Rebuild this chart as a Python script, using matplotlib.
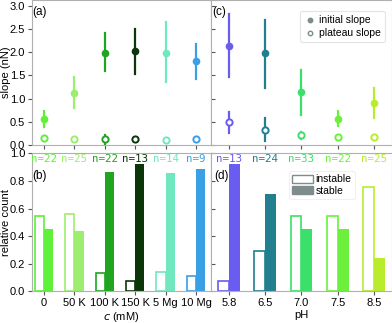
import matplotlib.pyplot as plt
import numpy as np
from matplotlib.lines import Line2D
from matplotlib.patches import Patch

plt.rcParams["font.family"] = ["Liberation Sans", "DejaVu Sans"]
plt.rcParams["font.size"] = 8

# salt conditions
salt_labels = ["0", "50 K", "100 K", "150 K", "5 Mg", "10 Mg"]
salt_colors = ["#5ef03a", "#9ded6e", "#1fa51f", "#0a360a", "#6fe8c0", "#3aa0e6"]
salt_n = ["n=22", "n=25", "n=22", "n=13", "n=14", "n=9"]
salt_init = [0.55, 1.12, 1.99, 2.02, 1.99, 1.81]
salt_init_lo = [0.38, 0.79, 1.60, 1.53, 1.35, 1.42]
salt_init_hi = [0.73, 1.46, 2.40, 2.50, 2.64, 2.18]
salt_plat = [0.15, 0.14, 0.13, 0.13, 0.10, 0.12]
salt_plat_lo = [0.15, 0.14, 0.03, 0.10, 0.10, 0.12]
salt_plat_hi = [0.15, 0.14, 0.22, 0.16, 0.10, 0.12]
salt_instable = [0.545, 0.56, 0.136, 0.077, 0.143, 0.111]
salt_stable = [0.455, 0.44, 0.864, 0.923, 0.857, 0.889]

# pH conditions
ph_labels = ["5.8", "6.5", "7.0", "7.5", "8.5"]
ph_colors = ["#6a5cf0", "#217f8f", "#3be06a", "#6cf03c", "#b8ec2c"]
ph_n = ["n=13", "n=24", "n=33", "n=22", "n=25"]
ph_init = [2.14, 1.98, 1.14, 0.57, 0.91]
ph_init_lo = [1.47, 1.23, 0.65, 0.40, 0.58]
ph_init_hi = [2.82, 2.70, 1.62, 0.74, 1.22]
ph_plat = [0.49, 0.33, 0.21, 0.18, 0.18]
ph_plat_lo = [0.25, 0.08, 0.13, 0.16, 0.16]
ph_plat_hi = [0.72, 0.59, 0.28, 0.20, 0.20]
ph_instable = [0.077, 0.292, 0.545, 0.545, 0.76]
ph_stable = [0.923, 0.708, 0.455, 0.455, 0.24]

spine_col = "#b0b0b0"

fig = plt.figure(figsize=(3.92, 3.23), dpi=100)
ax_a = fig.add_axes([0.0816, 0.551, 0.457, 0.449])
ax_c = fig.add_axes([0.538, 0.551, 0.462, 0.449])
ax_b = fig.add_axes([0.0816, 0.098, 0.457, 0.427])
ax_d = fig.add_axes([0.538, 0.098, 0.462, 0.427])


def style(ax):
    for s in ax.spines.values():
        s.set_color(spine_col)
    ax.tick_params(colors="#555555", labelcolor="black", length=3, width=0.8, pad=2)


def slopes(ax, cols, init, lo, hi, plat, plo, phi):
    x = np.arange(len(init))
    for i in x:
        ax.plot([i, i], [lo[i], hi[i]], color=cols[i], lw=1.6, zorder=2)
        ax.plot(i, init[i], "o", color=cols[i], ms=4.5, zorder=3)
        if phi[i] - plo[i] > 0.05:
            ax.plot([i, i], [plo[i], phi[i]], color=cols[i], lw=1.6, zorder=2)
        ax.plot(i, plat[i], "o", mfc="white", mec=cols[i], mew=1.4, ms=4.5, zorder=3)


def bars(ax, cols, inst, stab, nlab):
    x = np.arange(len(inst))
    w = 0.3
    for i in x:
        ax.bar(i - w / 2, inst[i], w, facecolor="white", edgecolor=cols[i], lw=1.2)
        ax.bar(i + w / 2, stab[i], w, color=cols[i])
        ax.text(i, 0.96, nlab[i], color=cols[i], ha="center", va="center",
                family="DejaVu Sans Mono", fontsize=7.8)


slopes(ax_a, salt_colors, salt_init, salt_init_lo, salt_init_hi, salt_plat, salt_plat_lo, salt_plat_hi)
slopes(ax_c, ph_colors, ph_init, ph_init_lo, ph_init_hi, ph_plat, ph_plat_lo, ph_plat_hi)
bars(ax_b, salt_colors, salt_instable, salt_stable, salt_n)
bars(ax_d, ph_colors, ph_instable, ph_stable, ph_n)

for ax in [ax_a, ax_c]:
    ax.set_ylim(0, 3.12)
    ax.set_yticks(np.arange(0, 3.01, 0.5))
for ax in [ax_b, ax_d]:
    ax.set_ylim(0, 1.0)
    ax.set_yticks(np.arange(0, 1.01, 0.2))

ax_a.set_xlim(-0.4, 5.5)
ax_b.set_xlim(-0.4, 5.5)
ax_c.set_xlim(-0.5, 4.5)
ax_d.set_xlim(-0.5, 4.5)

ax_a.set_xticks(range(len(salt_labels)))
ax_a.set_xticklabels([])
ax_c.set_xticks(range(len(ph_labels)))
ax_c.set_xticklabels([])
ax_b.set_xticks(range(len(salt_labels)))
ax_b.set_xticklabels(salt_labels)
ax_d.set_xticks(range(len(ph_labels)))
ax_d.set_xticklabels(ph_labels)
ax_c.set_yticklabels([])
ax_d.set_yticklabels([])
ax_a.set_yticklabels(["%.1f" % t for t in np.arange(0, 3.01, 0.5)])
ax_b.set_yticklabels(["%.1f" % t for t in np.arange(0, 1.01, 0.2)])

for ax in [ax_a, ax_b, ax_c, ax_d]:
    style(ax)
ax_c.tick_params(axis="y", direction="in")
ax_d.tick_params(axis="y", direction="in")

ax_a.set_ylabel("slope (nN)")
ax_b.set_ylabel("relative count")
ax_a.yaxis.set_label_coords(-0.118, 0.5)
ax_b.yaxis.set_label_coords(-0.118, 0.5)
ax_b.set_xlabel("$c$ (mM)", labelpad=1)
ax_d.set_xlabel("pH", labelpad=1)

ax_a.text(0.0, 0.96, "(a)", transform=ax_a.transAxes, va="top", fontsize=8.5)
ax_c.text(0.01, 0.96, "(c)", transform=ax_c.transAxes, va="top", fontsize=8.5)
ax_b.text(0.0, 0.88, "(b)", transform=ax_b.transAxes, va="top", fontsize=8.5)
ax_d.text(0.02, 0.88, "(d)", transform=ax_d.transAxes, va="top", fontsize=8.5)

grey = "#7f8c8d"
h1 = [Line2D([], [], ls="none", marker="o", color=grey, ms=3.2),
      Line2D([], [], ls="none", marker="o", mfc="white", mec=grey, mew=1.0, ms=3.2)]
leg = ax_c.legend(h1, ["initial slope", "plateau slope"], loc="upper right",
                  fontsize=7.5, handlelength=1.0, handletextpad=0.4, borderpad=0.4,
                  labelspacing=0.3, framealpha=1, bbox_to_anchor=(0.99, 0.96))
leg.get_frame().set_edgecolor("#e4e4e4")
leg.get_frame().set_linewidth(0.8)

h2 = [Patch(facecolor="white", edgecolor=grey, lw=1.0),
      Patch(facecolor=grey, edgecolor=grey)]
leg2 = ax_d.legend(h2, ["instable", "stable"], loc="upper left",
                   fontsize=7.5, handlelength=2.0, handleheight=0.8, handletextpad=0.3,
                   borderpad=0.3, labelspacing=0.15, framealpha=1,
                   bbox_to_anchor=(0.4, 0.91))
leg2.get_frame().set_edgecolor("#f0f0f0")
leg2.get_frame().set_linewidth(0.8)

fig.savefig("out.png", dpi=100)
